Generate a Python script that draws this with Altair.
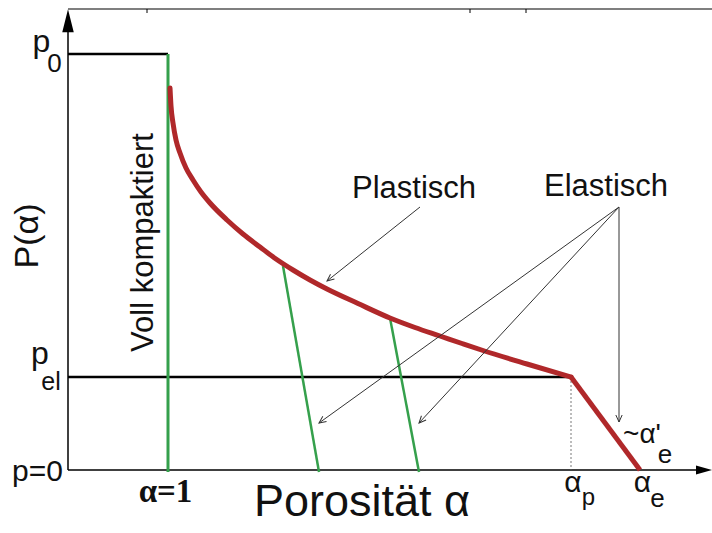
import altair as alt
import pandas as pd
import numpy as np

# Positions (picture units), converted below to data units
X0, Y0 = 68, 470          # origin of the axes
W, H = 644, 461           # extent of the axes (right edge / top line)

def dx(v):
    return [a - X0 for a in v]

def dy(v):
    return [Y0 - a for a in v]

# Red P(alpha) curve: plastic branch (smooth) and elastic branch (straight)
plast_px = [170, 171, 173, 176, 180, 186, 193, 201, 210, 227, 243, 260, 276, 293, 310, 327, 358, 390, 415, 440, 462, 483, 527, 571]
plast_py = [88, 106, 123, 140, 153, 168, 180, 192, 203, 220, 234, 247, 259, 270, 280, 289, 303.5, 318, 327.5, 336, 343.5, 350.5, 364, 377]
elast_px = [571, 640]
elast_py = [377, 470]

# Green unloading lines (top -> bottom)
green_x1 = [168, 283, 390]
green_y1 = [54, 266, 318]
green_x2 = [168, 319, 419]
green_y2 = [472, 472, 472]
green_w = [3, 2.5, 2.5]

# Black lines: p0, p_el, y-axis, x-axis, top line, top ticks
black_x1 = [68, 68, 68, 68, 68, 147, 470, 526]
black_y1 = [54, 377, 470, 470, 9, 9, 9, 9]
black_x2 = [168, 571, 68, 704, 712, 147, 470, 526]
black_y2 = [54, 377, 24, 470, 9, 13, 13, 13]
black_w = [2.5, 2.5, 1.5, 1.5, 1.2, 1, 1, 1]

# Annotation arrows (start -> tip)
arr_x1 = [420, 619, 619, 619]
arr_y1 = [207, 207, 207, 207]
arr_x2 = [327, 319, 419, 619]
arr_y2 = [281, 423, 423, 422]

# Dotted alpha_p marker
dot_x = [571]
dot_y1 = [377]
dot_y2 = [470]

# Texts (center x, baseline y, font size, angle)
txt = ["p", "0", "p", "el", "p=0", "Porosität α", "P(α)", "Voll kompaktiert",
       "Plastisch", "Elastisch", "α", "p", "α", "e", "~α'", "e"]
txt_x = [41.5, 54.5, 40, 51, 37.5, 362, 38, 153, 414, 606, 573, 588.5, 642.5, 657.5, 642, 665]
txt_y = [52, 72, 364, 390, 481, 516, 236, 242.5, 198, 196, 492, 505, 492, 507, 443, 463]
txt_size = [32, 26, 32, 25, 30, 45, 34, 31, 31, 31, 30, 24, 30, 26, 28, 26]
txt_angle = [0, 0, 0, 0, 0, 0, 270, 270, 0, 0, 0, 0, 0, 0, 0, 0]

serif_txt = ["α=1"]
serif_x = [165.5]
serif_y = [502]
serif_size = [33]

xs = alt.Scale(domain=[0, W], nice=False, zero=False)
ys = alt.Scale(domain=[0, H], nice=False, zero=False)

plast_df = pd.DataFrame({"x": dx(plast_px), "y": dy(plast_py), "i": range(len(plast_px))})
elast_df = pd.DataFrame({"x": dx(elast_px), "y": dy(elast_py), "i": range(len(elast_px))})
green_df = pd.DataFrame({"x": dx(green_x1), "y": dy(green_y1), "x2": dx(green_x2), "y2": dy(green_y2), "w": green_w})
black_df = pd.DataFrame({"x": dx(black_x1), "y": dy(black_y1), "x2": dx(black_x2), "y2": dy(black_y2), "w": black_w})
arr_df = pd.DataFrame({"x": dx(arr_x1), "y": dy(arr_y1), "x2": dx(arr_x2), "y2": dy(arr_y2)})
# screen angle of each arrow (1 data unit = 1 pixel on both axes)
arr_df["ang"] = (np.degrees(np.arctan2(-(arr_df["y2"] - arr_df["y"]), arr_df["x2"] - arr_df["x"])) + 360) % 360
dot_df = pd.DataFrame({"x": dx(dot_x), "y": dy(dot_y1), "y2": dy(dot_y2)})
txt_df = pd.DataFrame({"t": txt, "x": dx(txt_x), "y": dy(txt_y), "s": txt_size, "a": txt_angle})
serif_df = pd.DataFrame({"t": serif_txt, "x": dx(serif_x), "y": dy(serif_y), "s": serif_size})

# axis arrow heads
yhead_df = pd.DataFrame({"x": dx([68]), "y": dy([20.7])})
xhead_df = pd.DataFrame({"x": dx([704]), "y": dy([470])})

X = lambda f: alt.X(f, scale=xs, axis=None)
Y = lambda f: alt.Y(f, scale=ys, axis=None)

black = alt.Chart(black_df).mark_rule(color="#000000").encode(
    x=X("x:Q"), y=Y("y:Q"), x2="x2:Q", y2="y2:Q", strokeWidth=alt.StrokeWidth("w:Q", scale=None))

dotted = alt.Chart(dot_df).mark_rule(color="#555555", strokeWidth=0.8, strokeDash=[2, 2]).encode(
    x=X("x:Q"), y=Y("y:Q"), y2="y2:Q")

green = alt.Chart(green_df).mark_rule(color="#35a04c").encode(
    x=X("x:Q"), y=Y("y:Q"), x2="x2:Q", y2="y2:Q", strokeWidth=alt.StrokeWidth("w:Q", scale=None))

red_p = alt.Chart(plast_df).mark_line(color="#b0282a", strokeWidth=5, interpolate="monotone",
                                      strokeCap="round", strokeJoin="round").encode(
    x=X("x:Q"), y=Y("y:Q"), order="i:Q")

red_e = alt.Chart(elast_df).mark_line(color="#b0282a", strokeWidth=5, strokeCap="butt",
                                      strokeJoin="round").encode(
    x=X("x:Q"), y=Y("y:Q"), order="i:Q")

arrows = alt.Chart(arr_df).mark_rule(color="#333333", strokeWidth=1).encode(
    x=X("x:Q"), y=Y("y:Q"), x2="x2:Q", y2="y2:Q")

heads = alt.Chart(arr_df).mark_point(shape="M-1,-0.45L0,0L-1,0.45", filled=False, size=196,
                                     color="#333333", strokeWidth=1, opacity=1).encode(
    x=X("x2:Q"), y=Y("y2:Q"), angle=alt.Angle("ang:Q", scale=None))

yhead = alt.Chart(yhead_df).mark_point(shape="M0,-1L0.5,1L-0.5,1Z", filled=True, size=529,
                                       color="#000000", opacity=1).encode(x=X("x:Q"), y=Y("y:Q"))

xhead = alt.Chart(xhead_df).mark_point(shape="M1,0L-1,-0.55L-1,0.55Z", filled=True, size=256,
                                       color="#000000", opacity=1).encode(x=X("x:Q"), y=Y("y:Q"))

texts = alt.Chart(txt_df).mark_text(font="Liberation Sans", align="center", baseline="alphabetic",
                                    color="#111111").encode(
    x=X("x:Q"), y=Y("y:Q"), text="t:N", size=alt.Size("s:Q", scale=None),
    angle=alt.Angle("a:Q", scale=None))

serif = alt.Chart(serif_df).mark_text(font="Liberation Serif", fontWeight="bold", align="center",
                                      baseline="alphabetic", color="#111111").encode(
    x=X("x:Q"), y=Y("y:Q"), text="t:N", size=alt.Size("s:Q", scale=None))

chart = alt.layer(black, dotted, green, red_p, red_e, arrows, heads, yhead, xhead, texts, serif).properties(
    width=W, height=H,
    padding={"left": X0, "top": 9, "right": 0, "bottom": 533 - Y0},
    autosize=alt.AutoSizeParams(type="none"),
    background="white",
).configure_view(stroke=None)

chart.save("out.html", embed_options={"renderer": "svg", "actions": False})
